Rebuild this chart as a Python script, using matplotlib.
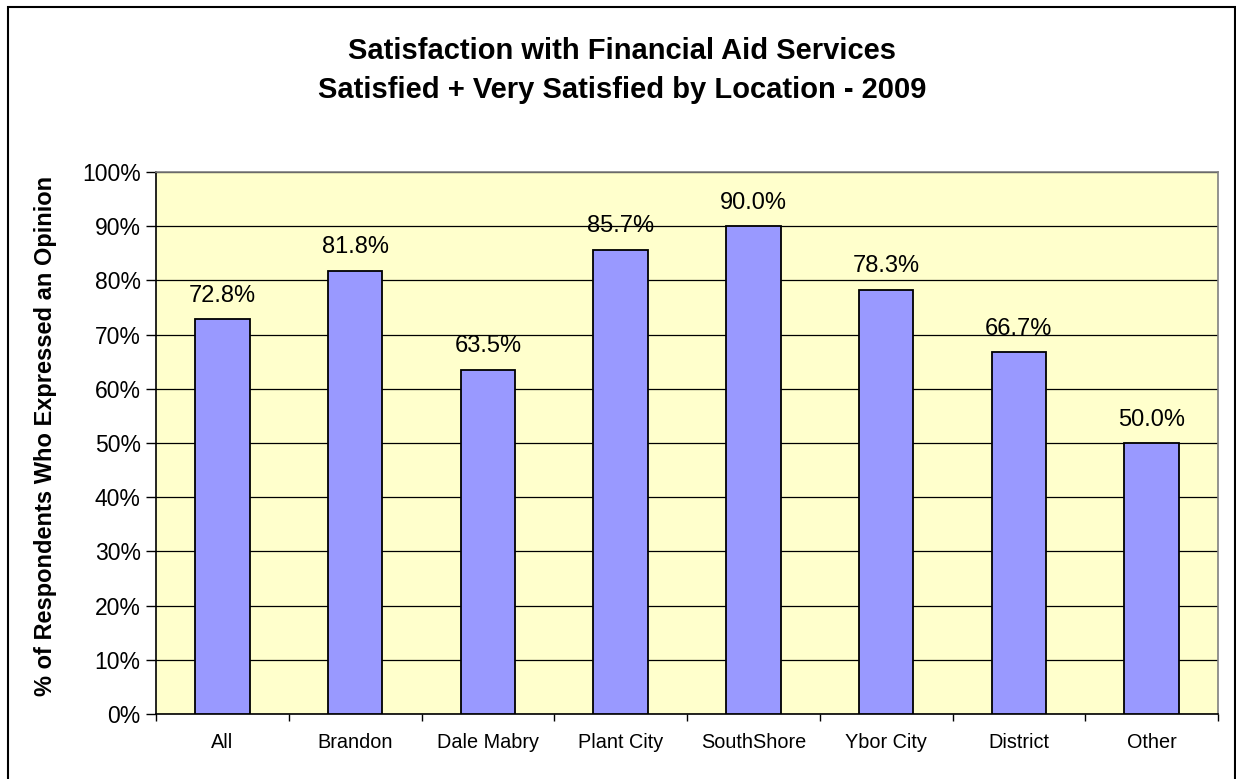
import matplotlib
matplotlib.use("Agg")
import matplotlib.pyplot as plt
import matplotlib.patches as mpatches
from matplotlib.ticker import FixedLocator, NullFormatter
import numpy as np

plt.rcParams['font.family'] = ['Liberation Sans', 'DejaVu Sans']

locations = ["All", "Brandon", "Dale Mabry", "Plant City", "SouthShore",
             "Ybor City", "District", "Other"]
satisfied_pct = [72.8, 81.8, 63.5, 85.7, 90.0, 78.3, 66.7, 50.0]
y_ticks = list(range(0, 101, 10))

W, H = 1236, 779
fig = plt.figure(figsize=(W / 100, H / 100), dpi=100)
fig.patch.set_facecolor("white")

# outer chart border
fig.add_artist(mpatches.Rectangle((8 / W, -0.01), (1235 - 8) / W, 1 - 7 / H + 0.01,
                                  transform=fig.transFigure, fill=False,
                                  edgecolor="black", linewidth=1.5))

ax = fig.add_axes([156 / W, 1 - 714 / H, (1218 - 156) / W, (714 - 172) / H])
ax.set_facecolor("#FFFFCC")

x = np.arange(len(locations))
ax.bar(x, satisfied_pct, width=0.41, color="#9999FF", edgecolor="black",
       linewidth=1.3, zorder=3)

for xi, v in zip(x, satisfied_pct):
    ax.text(xi, v + 3.2, f"{v:.1f}%", ha="center", va="baseline", fontsize=17,
            zorder=4)

ax.set_xlim(-0.5, len(locations) - 0.5)
ax.set_ylim(0, 100)
ax.set_yticks(y_ticks)
ax.set_yticklabels([f"{t}%" for t in y_ticks], fontsize=16.5)
ax.yaxis.grid(True, color="black", linewidth=0.9, zorder=1)
ax.set_axisbelow(True)

# category labels centred, tick marks between categories
ax.xaxis.set_major_locator(FixedLocator(np.arange(-0.5, len(locations), 1.0)))
ax.xaxis.set_major_formatter(NullFormatter())
ax.xaxis.set_minor_locator(FixedLocator(x))
ax.set_xticklabels(locations, minor=True, fontsize=14.3)
ax.tick_params(axis="x", which="major", length=5, width=1, direction="out")
ax.tick_params(axis="x", which="minor", length=0, pad=14)
ax.tick_params(axis="y", length=7, width=1, direction="out", pad=4)

for side in ("top", "right"):
    ax.spines[side].set_color("#808080")
    ax.spines[side].set_linewidth(1.2)
for side in ("left", "bottom"):
    ax.spines[side].set_color("black")
    ax.spines[side].set_linewidth(1.2)

fig.text(46 / W, 1 - 436 / H, "% of Respondents Who Expressed an Opinion",
         rotation=90, ha="center", va="center", fontsize=17, fontweight="bold")

fig.text(622 / W, 1 - 59 / H, "Satisfaction with Financial Aid Services",
         ha="center", va="baseline", fontsize=21, fontweight="bold")
fig.text(622 / W, 1 - 98 / H, "Satisfied + Very Satisfied by Location - 2009",
         ha="center", va="baseline", fontsize=21, fontweight="bold")

fig.savefig("out.png", dpi=100)
